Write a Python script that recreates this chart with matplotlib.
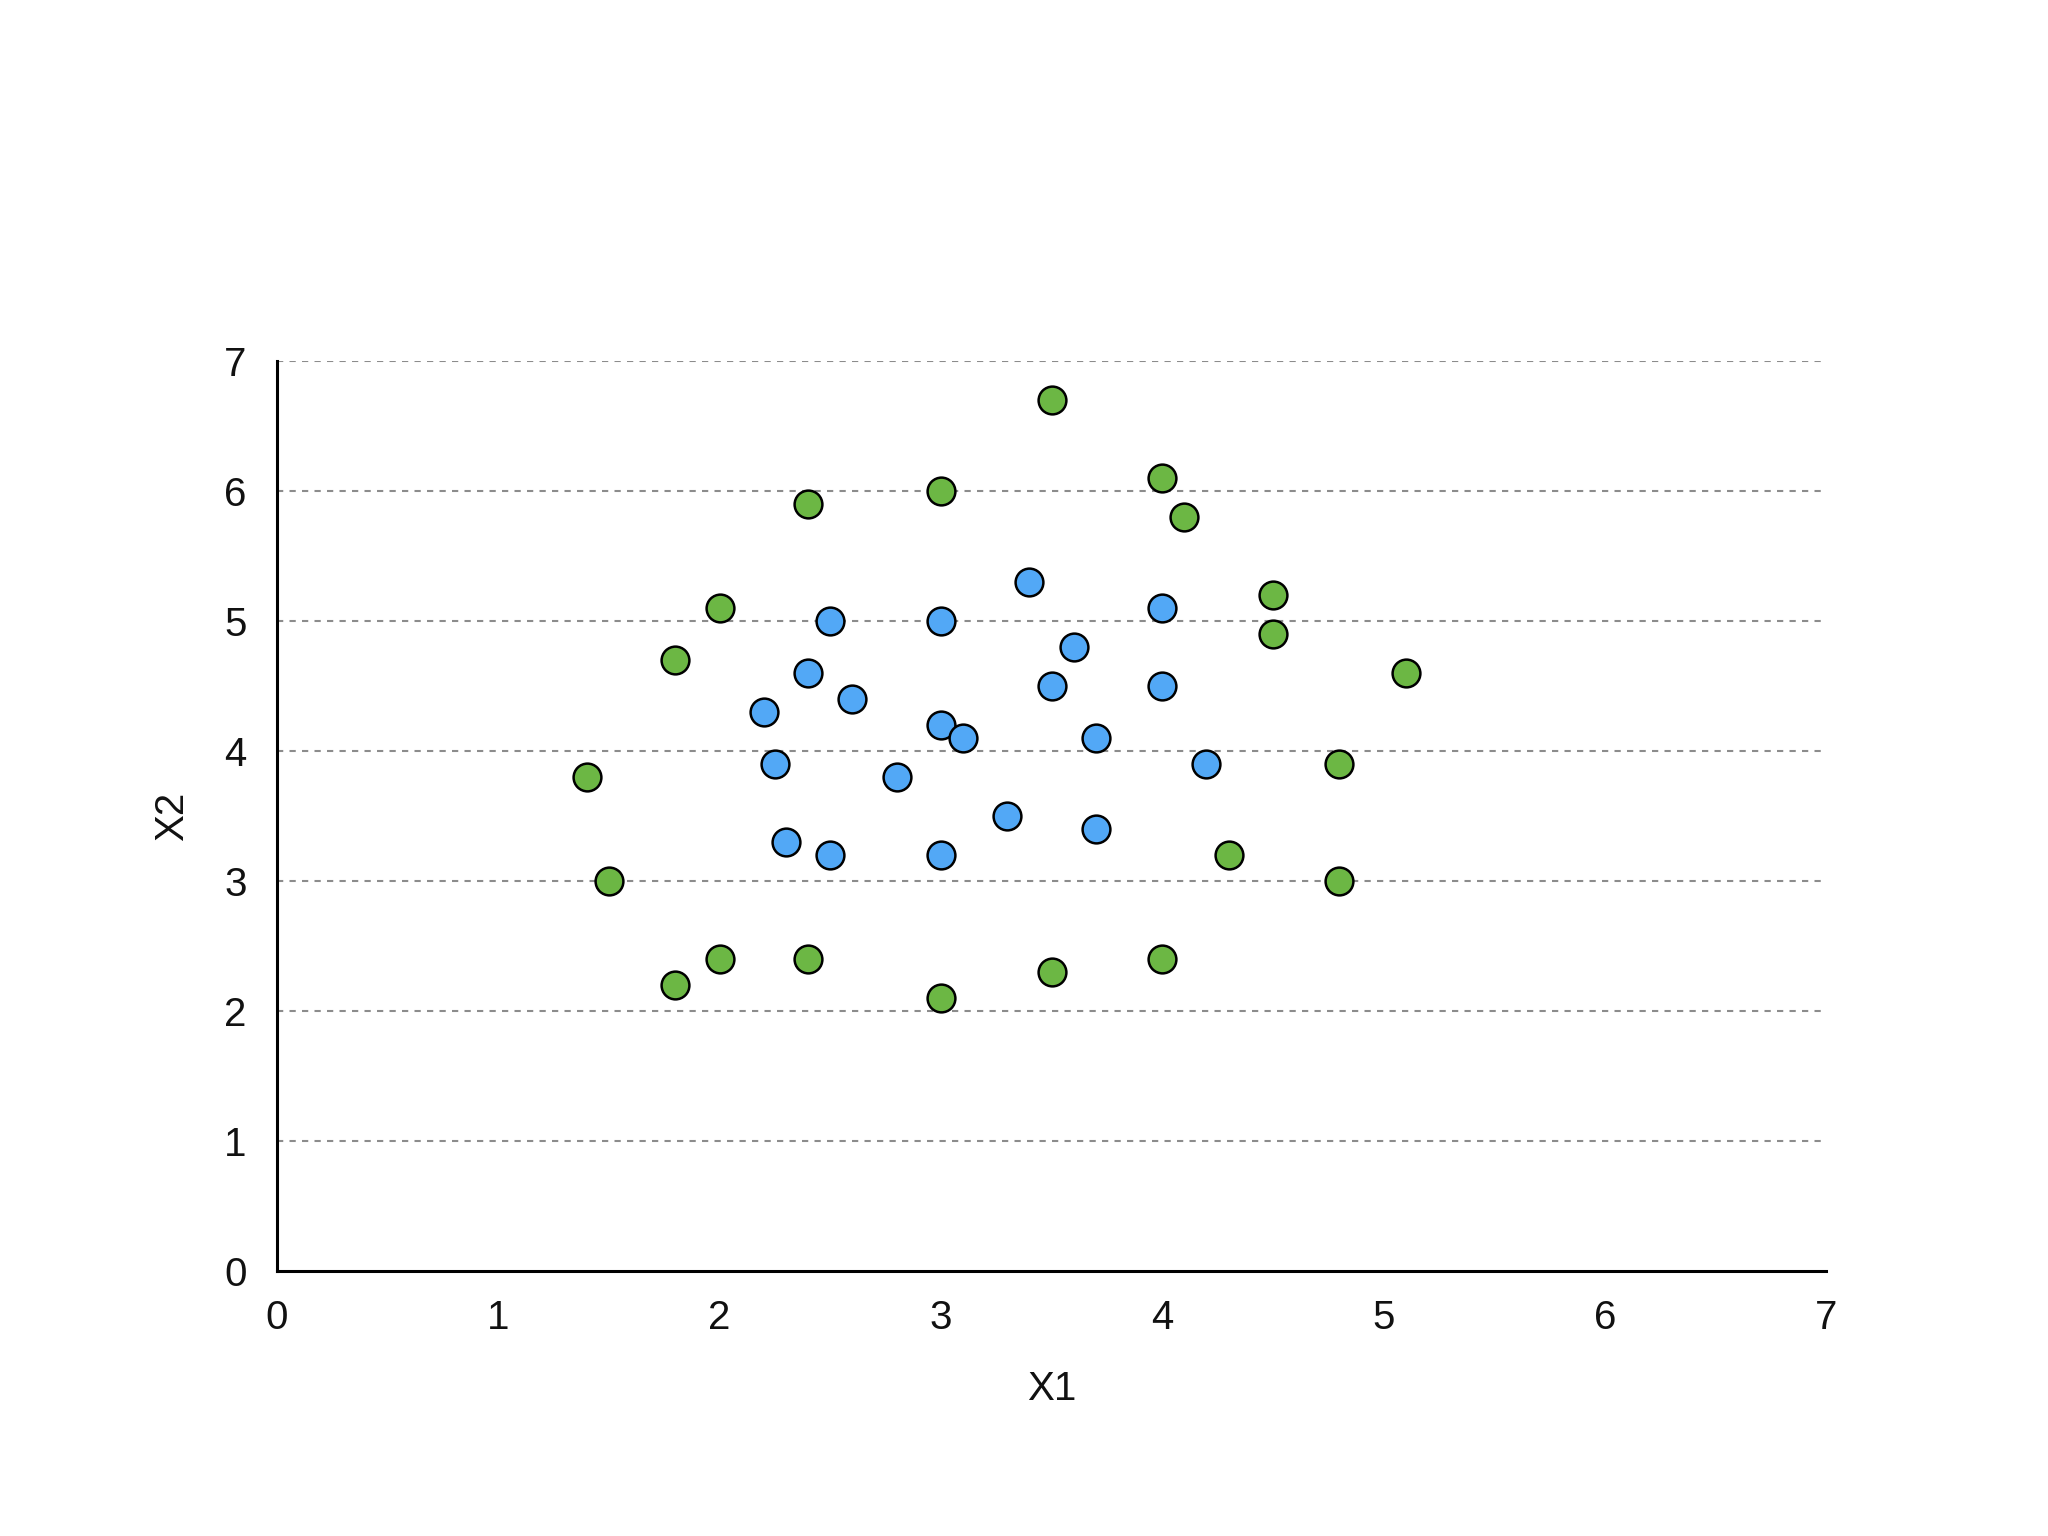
import matplotlib
matplotlib.use("Agg")
import matplotlib.pyplot as plt

# green class (outer ring)
green_x = [3.5, 4.0, 4.1, 2.4, 3.0, 2.0, 4.5, 4.5, 1.8, 5.1, 1.4, 4.8, 1.5, 4.3, 4.8, 1.8, 2.0, 2.4, 3.0, 3.5, 4.0]
green_y = [6.7, 6.1, 5.8, 5.9, 6.0, 5.1, 5.2, 4.9, 4.7, 4.6, 3.8, 3.9, 3.0, 3.2, 3.0, 2.2, 2.4, 2.4, 2.1, 2.3, 2.4]

# blue class (inner cluster)
blue_x = [3.4, 2.5, 3.0, 4.0, 3.6, 2.4, 3.5, 4.0, 2.6, 2.2, 3.0, 3.1, 3.7, 2.25, 4.2, 2.8, 3.3, 3.7, 2.3, 2.5, 3.0]
blue_y = [5.3, 5.0, 5.0, 5.1, 4.8, 4.6, 4.5, 4.5, 4.4, 4.3, 4.2, 4.1, 4.1, 3.9, 3.9, 3.8, 3.5, 3.4, 3.3, 3.2, 3.2]

ticks = [0, 1, 2, 3, 4, 5, 6, 7]

plt.rcParams['font.family'] = ['Liberation Sans', 'DejaVu Sans']

fig = plt.figure(figsize=(20.48, 15.36), dpi=100)
ax = fig.add_axes([0.1353, 0.1725, 0.7563, 0.5925])

ax.scatter(green_x, green_y, s=400, c='#6cb744', edgecolors='black', linewidths=1.8, zorder=3)
ax.scatter(blue_x, blue_y, s=400, c='#52a8f6', edgecolors='black', linewidths=1.8, zorder=3)

ax.set_xlim(0, 7)
ax.set_ylim(0, 7)
ax.set_xticks(ticks)
ax.set_yticks(ticks)

# dashed horizontal grid only
for t in ticks[1:]:
    ax.axhline(t, color='#8c8c8c', linestyle=(0, (3, 3)), linewidth=1.5, zorder=1)

for s in ['top', 'right']:
    ax.spines[s].set_visible(False)
ax.spines['left'].set_linewidth(2.2)
ax.spines['bottom'].set_linewidth(2.2)

ax.tick_params(axis='both', length=0, labelsize=29, colors='#111111')
ax.tick_params(axis='y', pad=22)
ax.tick_params(axis='x', pad=20)

ax.set_xlabel('X1', fontsize=29, labelpad=24, color='#111111')
ax.set_ylabel('X2', fontsize=29, labelpad=24, color='#111111')

fig.savefig('out.png', dpi=100, facecolor='white')
